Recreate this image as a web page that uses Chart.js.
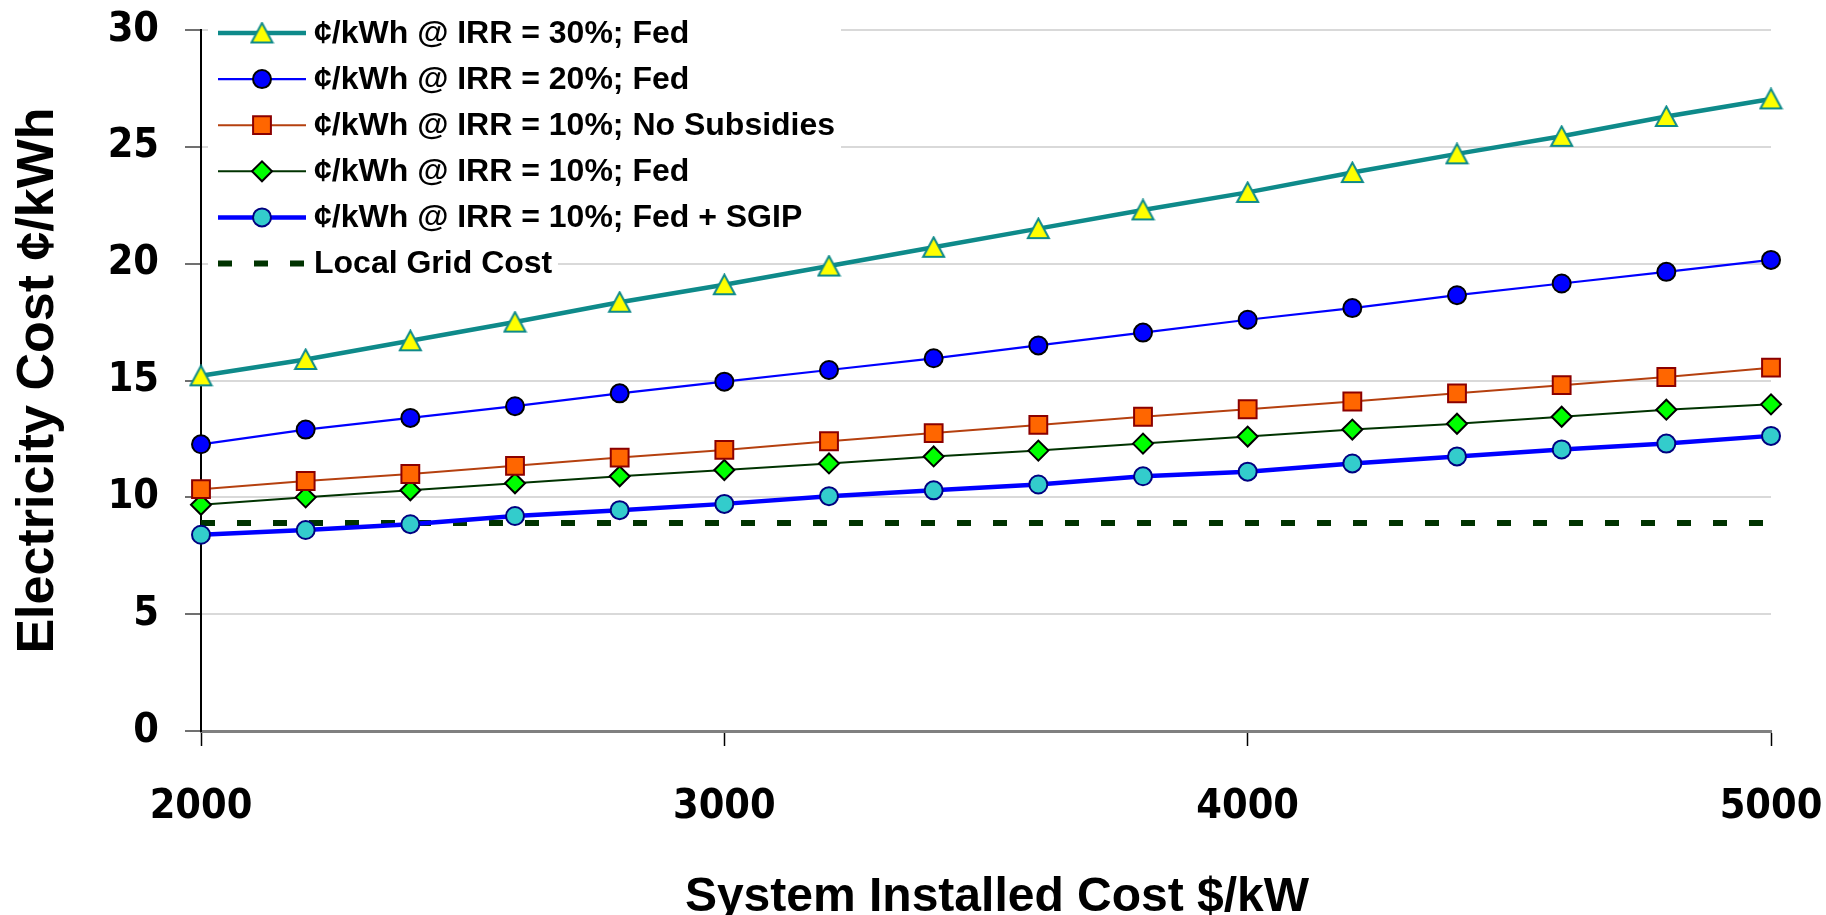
<!DOCTYPE html>
<html>
<head>
<meta charset="utf-8">
<title>Electricity Cost vs System Installed Cost</title>
<script src="https://cdn.jsdelivr.net/npm/chart.js@4.4.0/dist/chart.umd.min.js"></script>
<style>
  html, body { margin: 0; padding: 0; background: #ffffff; }
  canvas { display: block; }
</style>
</head>
<body>
<canvas id="costChart" width="1826" height="915"></canvas>
<script>
// System installed cost, $/kW
const installedCost = [2000, 2200, 2400, 2600, 2800, 3000, 3200, 3400, 3600, 3800, 4000, 4200, 4400, 4600, 4800, 5000];

// Electricity cost, cents/kWh
const irr30Fed     = [15.2, 15.9, 16.7, 17.5, 18.35, 19.1, 19.9, 20.7, 21.5, 22.3, 23.05, 23.9, 24.7, 25.45, 26.3, 27.05];
const irr20Fed     = [12.27, 12.9, 13.4, 13.9, 14.45, 14.95, 15.45, 15.95, 16.5, 17.05, 17.6, 18.1, 18.65, 19.15, 19.65, 20.16];
const irr10NoSub   = [10.35, 10.7, 11.0, 11.35, 11.7, 12.03, 12.4, 12.75, 13.1, 13.45, 13.77, 14.1, 14.45, 14.8, 15.15, 15.55];
const irr10Fed     = [9.68, 10.0, 10.3, 10.6, 10.9, 11.17, 11.45, 11.75, 12.0, 12.3, 12.6, 12.9, 13.15, 13.45, 13.75, 13.98];
const irr10FedSgip = [8.4, 8.6, 8.85, 9.2, 9.45, 9.72, 10.05, 10.3, 10.55, 10.9, 11.1, 11.45, 11.75, 12.05, 12.3, 12.63];
const localGrid    = [8.9, 8.9, 8.9, 8.9, 8.9, 8.9, 8.9, 8.9, 8.9, 8.9, 8.9, 8.9, 8.9, 8.9, 8.9, 8.9];

const seriesLabels = [
  '¢/kWh @ IRR = 30%; Fed',
  '¢/kWh @ IRR = 20%; Fed',
  '¢/kWh @ IRR = 10%; No Subsidies',
  '¢/kWh @ IRR = 10%; Fed',
  '¢/kWh @ IRR = 10%; Fed + SGIP',
  'Local Grid Cost'
];

const xTickValues = [2000, 3000, 4000, 5000];
const yTickValues = [0, 5, 10, 15, 20, 25, 30];
const xAxisTitle = 'System Installed Cost $/kW';
const yAxisTitle = 'Electricity Cost ¢/kWh';

const TEAL = '#0E8A8A';
const LABEL_FONT = '"Liberation Sans", Arial, sans-serif';

// Heavy, slightly narrow face for the tick numbers: use the condensed
// DejaVu cut when it is installed, otherwise regular DejaVu Sans.
function pickTickFont() {
  const g = document.createElement('canvas').getContext('2d');
  g.font = 'bold 40px "DejaVu Sans Condensed", serif';
  const a = g.measureText('2000 5000').width;
  g.font = 'bold 40px serif';
  const b = g.measureText('2000 5000').width;
  if (Math.abs(a - b) > 0.5) return { family: '"DejaVu Sans Condensed", "DejaVu Sans", sans-serif', size: 41 };
  return { family: '"DejaVu Sans", sans-serif', size: 38 };
}
const tickFont = pickTickFont();

// Yellow triangle marker, centred on its bounding box
function triangleMarker() {
  const cv = document.createElement('canvas');
  cv.width = 25; cv.height = 23;
  const g = cv.getContext('2d');
  g.beginPath();
  g.moveTo(12.5, 1.5);
  g.lineTo(23, 21);
  g.lineTo(2, 21);
  g.closePath();
  g.fillStyle = '#FFFF00';
  g.fill();
  g.lineWidth = 2;
  g.strokeStyle = TEAL;
  g.stroke();
  return cv;
}

function toPoints(values) {
  return installedCost.map((x, i) => ({ x: x, y: values[i] }));
}

function noScalePadding(scale) {
  scale.paddingTop = 0;
  scale.paddingBottom = 0;
  scale.paddingLeft = 0;
  scale.paddingRight = 0;
}

// In-plot key, drawn from each dataset's own styling
const seriesKey = {
  id: 'seriesKey',
  afterDraw(chart) {
    const ctx = chart.ctx;
    const area = chart.chartArea;
    const left = area.left + 7;
    const rowTop = 33;
    const rowStep = 46.1;
    ctx.save();
    ctx.fillStyle = '#ffffff';
    ctx.fillRect(left, 6, 633, 246);
    ctx.fillRect(left, 244, 350, 38);
    chart.data.datasets.forEach((ds, i) => {
      const y = rowTop + i * rowStep;
      const x0 = left + 10, x1 = left + 98, xm = (x0 + x1) / 2;
      ctx.beginPath();
      ctx.setLineDash(ds.borderDash || []);
      ctx.lineCap = 'butt';
      ctx.lineWidth = ds.borderWidth;
      ctx.strokeStyle = ds.borderColor;
      ctx.moveTo(x0, y);
      ctx.lineTo(x1, y);
      ctx.stroke();
      ctx.setLineDash([]);
      if (ds.pointRadius > 0) {
        ctx.fillStyle = ds.pointBackgroundColor || '#fff';
        ctx.strokeStyle = ds.pointBorderColor || '#000';
        ctx.lineWidth = ds.pointBorderWidth || 0;
        Chart.helpers.drawPoint(ctx, {
          pointStyle: ds.pointStyle,
          radius: ds.pointRadius,
          borderWidth: ds.pointBorderWidth || 0,
          rotation: 0
        }, xm, y);
      }
      ctx.fillStyle = '#000000';
      ctx.font = 'bold 32px ' + LABEL_FONT;
      ctx.textAlign = 'left';
      ctx.textBaseline = 'middle';
      ctx.fillText(ds.label, x1 + 8, y + 1);
    });
    ctx.restore();
  }
};

// Horizontal axis title, set a little right of the plot centre
const xTitle = {
  id: 'xTitle',
  afterDraw(chart) {
    const ctx = chart.ctx;
    const area = chart.chartArea;
    ctx.save();
    ctx.fillStyle = '#000000';
    ctx.font = 'bold 48px ' + LABEL_FONT;
    ctx.textAlign = 'center';
    ctx.textBaseline = 'alphabetic';
    ctx.fillText(xAxisTitle, (area.left + area.right) / 2 + 11, chart.height - 4);
    ctx.restore();
  }
};

const chart = new Chart(document.getElementById('costChart'), {
  type: 'line',
  data: {
    datasets: [
      {
        label: seriesLabels[0],
        data: toPoints(irr30Fed),
        borderColor: TEAL,
        borderWidth: 4.5,
        pointStyle: triangleMarker(),
        pointRadius: 12,
        pointBorderWidth: 0,
        pointBackgroundColor: '#FFFF00',
        pointBorderColor: TEAL
      },
      {
        label: seriesLabels[1],
        data: toPoints(irr20Fed),
        borderColor: '#0000FF',
        borderWidth: 2.2,
        pointStyle: 'circle',
        pointRadius: 9,
        pointBorderWidth: 2,
        pointBackgroundColor: '#0000FF',
        pointBorderColor: '#000000'
      },
      {
        label: seriesLabels[2],
        data: toPoints(irr10NoSub),
        borderColor: '#B5400F',
        borderWidth: 2,
        pointStyle: 'rect',
        pointRadius: 12.6,
        pointBorderWidth: 2,
        pointBackgroundColor: '#FF6600',
        pointBorderColor: '#8B0000'
      },
      {
        label: seriesLabels[3],
        data: toPoints(irr10Fed),
        borderColor: '#003300',
        borderWidth: 2,
        pointStyle: 'rectRot',
        pointRadius: 10,
        pointBorderWidth: 2,
        pointBackgroundColor: '#00FF00',
        pointBorderColor: '#000000'
      },
      {
        label: seriesLabels[4],
        data: toPoints(irr10FedSgip),
        borderColor: '#0000FF',
        borderWidth: 4.5,
        pointStyle: 'circle',
        pointRadius: 9,
        pointBorderWidth: 2,
        pointBackgroundColor: '#33CCCC',
        pointBorderColor: '#000080'
      },
      {
        label: seriesLabels[5],
        data: toPoints(localGrid),
        borderColor: '#003300',
        borderWidth: 6,
        borderDash: [14, 22],
        borderCapStyle: 'butt',
        pointRadius: 0
      }
    ]
  },
  options: {
    responsive: false,
    devicePixelRatio: 1,
    animation: false,
    events: [],
    clip: false,
    elements: { line: { tension: 0, fill: false } },
    layout: {
      autoPadding: false,
      padding: { top: 30, right: 55, left: 0, bottom: 0 }
    },
    plugins: {
      legend: { display: false },
      tooltip: { enabled: false }
    },
    scales: {
      x: {
        type: 'linear',
        min: 2000,
        max: 5000,
        afterBuildTicks: (scale) => { scale.ticks = xTickValues.map(v => ({ value: v })); },
        afterFit: (scale) => { scale.height = 184; noScalePadding(scale); },
        ticks: {
          callback: (v) => String(v),
          color: '#000000',
          padding: 37,
          font: { family: tickFont.family, size: tickFont.size, weight: 'bold', lineHeight: 1.2 }
        },
        grid: {
          drawOnChartArea: false,
          drawTicks: true,
          tickLength: 15,
          tickColor: '#000000',
          tickWidth: 1.5
        },
        border: { display: true, color: '#808080', width: 3 },
        title: { display: false }
      },
      y: {
        type: 'linear',
        min: 0,
        max: 30,
        afterBuildTicks: (scale) => { scale.ticks = yTickValues.map(v => ({ value: v })); },
        afterFit: (scale) => { scale.width = 201; noScalePadding(scale); },
        ticks: {
          callback: (v) => String(v),
          color: '#000000',
          padding: 26,
          font: { family: tickFont.family, size: tickFont.size, weight: 'bold', lineHeight: 1.2 }
        },
        grid: {
          color: '#D9D9D9',
          lineWidth: 2,
          drawTicks: true,
          tickLength: 16,
          tickColor: '#404040',
          tickWidth: 1.5
        },
        border: { display: true, color: '#000000', width: 2 },
        title: {
          display: true,
          text: yAxisTitle,
          color: '#000000',
          padding: { top: 13, bottom: 0 },
          font: { family: LABEL_FONT, size: 52, weight: 'bold', lineHeight: 1 }
        }
      }
    }
  },
  plugins: [seriesKey, xTitle]
});
</script>
</body>
</html>
